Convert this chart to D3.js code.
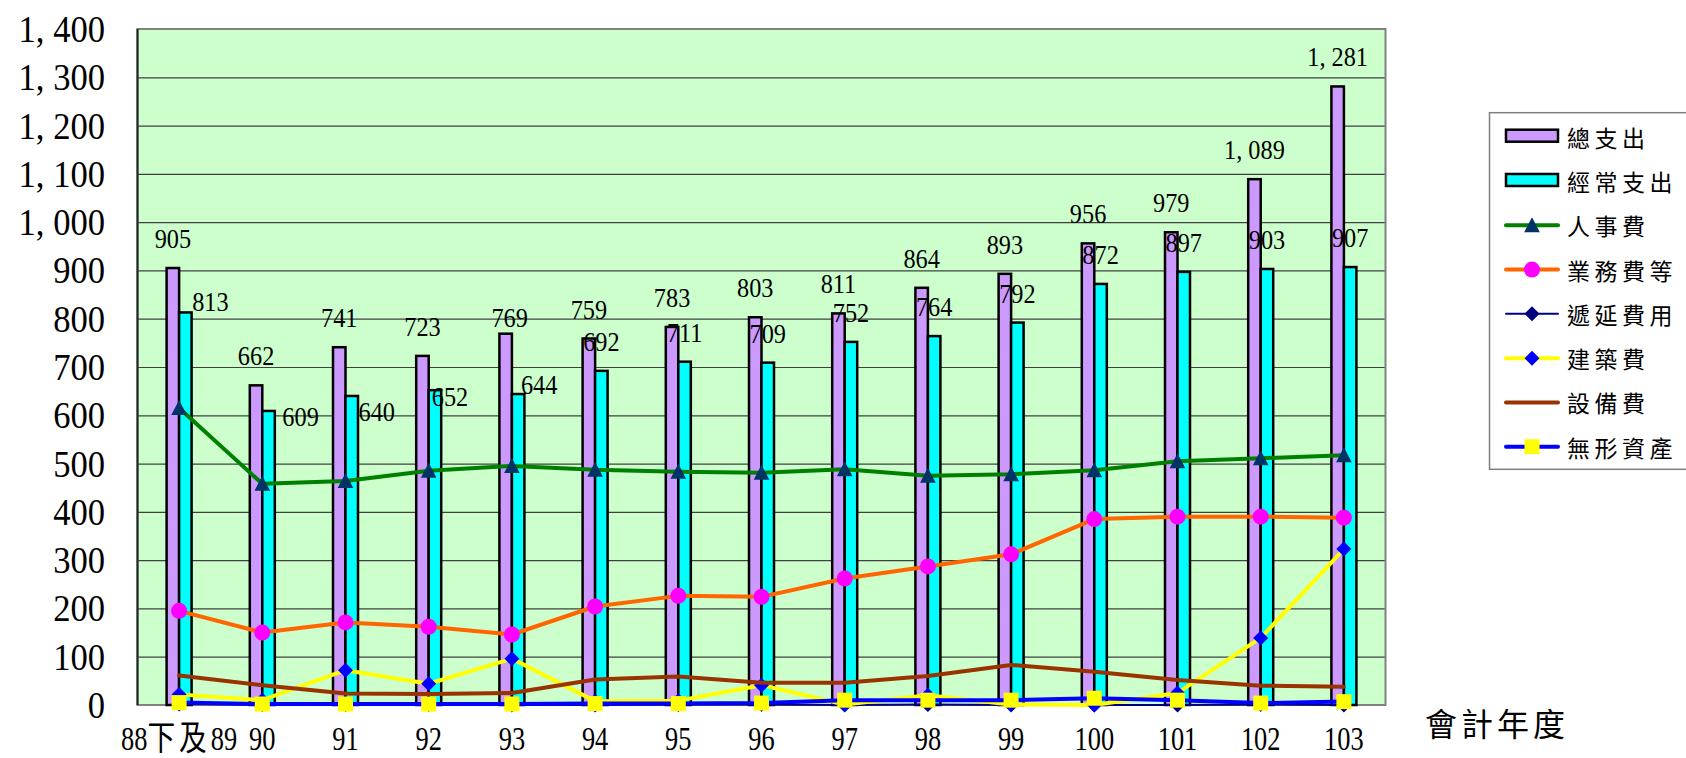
<!DOCTYPE html>
<html>
<head>
<meta charset="utf-8">
<script src="https://cdn.jsdelivr.net/npm/d3@7"></script>
<style>
  html, body { margin: 0; padding: 0; background: #fff; }
  svg { display: block; }
</style>
</head>
<body>
<svg id="chart" width="1686" height="758"></svg>
<script>
// ---------------- data ----------------
const categories = ["88下及89","90","91","92","93","94","95","96","97","98","99","100","101","102","103"];
const totalExp    = [905, 662, 741, 723, 769, 759, 783, 803, 811, 864, 893, 956, 979, 1089, 1281];
const currentExp  = [813, 609, 640, 652, 644, 692, 711, 709, 752, 764, 792, 872, 897, 903, 907];
const personnel   = [615, 458, 464, 485, 495, 487, 483, 481, 488, 475, 478, 486, 505, 511, 517];
const business    = [195, 150, 171, 162, 146, 204, 226, 224, 262, 287, 312, 385, 390, 390, 388];
const deferred    = [2, 1, 1, 1, 0, 0, 1, 1, 0, 1, 0, 0, 0, 1, 0];
const construction= [22, 10, 72, 44, 96, 8, 9, 41, 1, 20, 1, 0, 25, 139, 323];
const equipment   = [61, 41, 24, 23, 25, 53, 59, 46, 46, 60, 83, 69, 52, 40, 38];
const intangible  = [5, 2, 2, 2, 2, 3, 3, 4, 10, 10, 10, 14, 10, 4, 7];
const yTicks      = [0, 100, 200, 300, 400, 500, 600, 700, 800, 900, 1000, 1100, 1200, 1300, 1400];
const xTitle = "會計年度";

// manually moved data labels in the original (px offsets from default spot)
const labelNudge = {
  total:   {4: [4, 13]},
  current: {0: [25, 19], 1: [32, 35], 2: [25, 45], 3: [15, 36], 4: [21, 20]}
};

// ---------------- layout ----------------
const svg = d3.select("#chart");
const plot = {left: 137.5, right: 1385.5, top: 29, bottom: 705};
const serif = "'Liberation Serif', 'Noto Sans CJK TC', serif";
const cjk = "'Noto Sans CJK TC', 'Noto Sans CJK SC', sans-serif";

const x0 = d3.scaleBand().domain(categories).range([plot.left, plot.right]).padding(0);
const y = d3.scaleLinear().domain([0, 1400]).range([plot.bottom, plot.top]);
const barKeys = ["total", "current"];
const x1 = d3.scaleBand().domain(barKeys).range([-12.5, 12.5]);
const cx = c => x0(c) + x0.bandwidth() / 2;
const fmt = v => d3.format(",")(v).replace(",", ", ");

function condensed(parent, x, yy, str, size, sx, anchor) {
  const g = parent.append("g").attr("transform", `translate(${x},${yy}) scale(${sx},1)`);
  const t = g.append("text")
    .attr("text-anchor", anchor)
    .style("font-family", serif)
    .style("font-size", size + "px")
    .attr("fill", "#000");
  // split into runs so CJK characters keep their full width
  const runs = str.match(/[\u3400-\u9fff]+|[^\u3400-\u9fff]+/g) || [str];
  runs.forEach(r => {
    const isCjk = /[\u3400-\u9fff]/.test(r);
    const ts = t.append("tspan").text(r);
    if (isCjk) ts.style("font-size", (size * 1.05) + "px").style("letter-spacing", "5px");
  });
  return g;
}

// plot background
svg.append("rect")
  .attr("x", plot.left).attr("y", plot.top)
  .attr("width", plot.right - plot.left).attr("height", plot.bottom - plot.top)
  .attr("fill", "#CCFFCC");

// gridlines via axis
const grid = svg.append("g")
  .attr("transform", `translate(${plot.left},0)`)
  .call(d3.axisLeft(y).tickValues(yTicks.filter(t => t > 0 && t < 1400))
    .tickSize(-(plot.right - plot.left)).tickFormat(""));
grid.select(".domain").remove();
grid.selectAll(".tick line").attr("stroke", "#404040").attr("stroke-width", 1.2);

// border
svg.append("rect")
  .attr("x", plot.left).attr("y", plot.top)
  .attr("width", plot.right - plot.left).attr("height", plot.bottom - plot.top)
  .attr("fill", "none").attr("stroke", "#808080").attr("stroke-width", 2);
svg.append("line")
  .attr("x1", plot.left).attr("x2", plot.left)
  .attr("y1", plot.top).attr("y2", plot.bottom)
  .attr("stroke", "#222").attr("stroke-width", 2);

// y tick labels
const yLab = svg.append("g");
yTicks.forEach(t => condensed(yLab, 105, y(t) + 13, fmt(t), 38, 0.91, "end"));

// x tick labels
const xLab = svg.append("g");
categories.forEach(c => condensed(xLab, cx(c), 750, c, 33, 0.8, "middle"));

// axis title
svg.append("text")
  .attr("x", 1425).attr("y", 736)
  .style("font-family", cjk).style("font-size", "32px")
  .style("letter-spacing", "4px")
  .attr("fill", "#000")
  .text(xTitle);

// bars
const barSeries = [
  {key: "total", values: totalExp, fill: "#CC99FF"},
  {key: "current", values: currentExp, fill: "#00FFFF"}
];
const barG = svg.append("g");
barSeries.forEach(s => {
  barG.selectAll(null).data(categories).join("rect")
    .attr("x", c => cx(c) + x1(s.key))
    .attr("y", (c, i) => y(s.values[i]))
    .attr("width", x1.bandwidth())
    .attr("height", (c, i) => y(0) - y(s.values[i]))
    .attr("fill", s.fill).attr("stroke", "#000").attr("stroke-width", 2.5);
});

// lines
const markerPath = {
  triangle: (px, py) => `M${px},${py - 8}L${px + 7.8},${py + 7}L${px - 7.8},${py + 7}Z`,
  diamond: (px, py) => `M${px},${py - 7.5}L${px + 7.5},${py}L${px},${py + 7.5}L${px - 7.5},${py}Z`,
  square: (px, py) => `M${px - 7.5},${py - 7.5}h15v15h-15Z`,
  circle: (px, py) => `M${px - 8},${py}a8,8 0 1,0 16,0a8,8 0 1,0 -16,0Z`
};
const lineSeries = [
  {name: "人事費",   values: personnel,    stroke: "#008000", width: 4, marker: "triangle", mfill: "#003366"},
  {name: "業務費等", values: business,     stroke: "#FF6600", width: 4, marker: "circle",   mfill: "#FF00FF"},
  {name: "遞延費用", values: deferred,     stroke: "#000080", width: 2, marker: "diamond",  mfill: "#000080"},
  {name: "建築費",   values: construction, stroke: "#FFFF00", width: 4, marker: "diamond",  mfill: "#0000FF"},
  {name: "設備費",   values: equipment,    stroke: "#993300", width: 4, marker: null,       mfill: null},
  {name: "無形資產", values: intangible,   stroke: "#0000FF", width: 4, marker: "square",   mfill: "#FFFF00"}
];
const line = d3.line().x(d => cx(d.c)).y(d => y(d.v));
const lineG = svg.append("g");
lineSeries.forEach(s => {
  const pts = categories.map((c, i) => ({c, v: s.values[i]}));
  lineG.append("path").datum(pts)
    .attr("d", line).attr("fill", "none")
    .attr("stroke", s.stroke).attr("stroke-width", s.width)
    .attr("stroke-linejoin", "round").attr("stroke-linecap", "round");
  if (s.marker) {
    lineG.selectAll(null).data(pts).join("path")
      .attr("d", d => markerPath[s.marker](cx(d.c), y(d.v)))
      .attr("fill", s.mfill);
  }
});

// data labels
const labG = svg.append("g");
barSeries.forEach(s => {
  categories.forEach((c, i) => {
    const n = (labelNudge[s.key][i]) || [0, 0];
    const bx = cx(c) + x1(s.key) + x1.bandwidth() / 2;
    condensed(labG, bx + n[0], y(s.values[i]) - 20 + n[1], fmt(s.values[i]), 27, 0.9, "middle");
  });
});

// legend
const lg = svg.append("g");
lg.append("rect")
  .attr("x", 1489.5).attr("y", 112.7).attr("width", 210).attr("height", 356.6)
  .attr("fill", "#fff").attr("stroke", "#808080").attr("stroke-width", 1.5);
const legendItems = [
  {name: "總支出", type: "bar", fill: "#CC99FF"},
  {name: "經常支出", type: "bar", fill: "#00FFFF"},
  ...lineSeries.map(s => ({name: s.name, type: "line", s}))
];
const ly = d3.scalePoint().domain(legendItems.map(d => d.name)).range([136.7, 446.7]);
legendItems.forEach(it => {
  const yy = ly(it.name);
  if (it.type === "bar") {
    lg.append("rect").attr("x", 1506).attr("y", yy - 7).attr("width", 52).attr("height", 12)
      .attr("fill", it.fill).attr("stroke", "#000").attr("stroke-width", 2.5);
  } else {
    const s = it.s;
    lg.append("line").attr("x1", 1506).attr("x2", 1558).attr("y1", yy).attr("y2", yy)
      .attr("stroke", s.stroke).attr("stroke-width", s.width).attr("stroke-linecap", "round");
    if (s.marker) lg.append("path").attr("d", markerPath[s.marker](1532, yy)).attr("fill", s.mfill);
  }
  lg.append("text").attr("x", 1567).attr("y", yy)
    .attr("dominant-baseline", "central")
    .style("font-family", cjk).style("font-size", "23px").style("letter-spacing", "4.5px")
    .attr("fill", "#000").text(it.name);
});
</script>
</body>
</html>
